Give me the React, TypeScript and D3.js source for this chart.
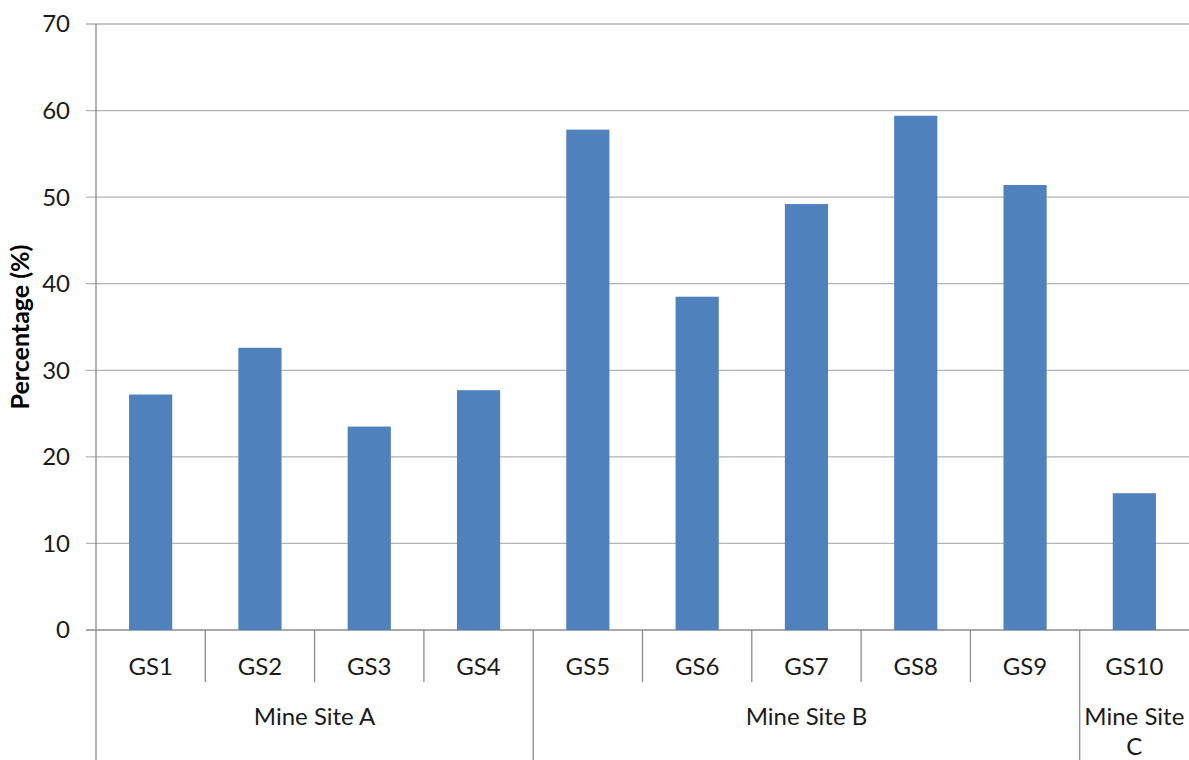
import React, { useEffect, useRef } from 'react';
import * as d3 from 'd3';

const samples = ['GS1', 'GS2', 'GS3', 'GS4', 'GS5', 'GS6', 'GS7', 'GS8', 'GS9', 'GS10'];
const percentages = [27.2, 32.6, 23.5, 27.7, 57.8, 38.5, 49.2, 59.4, 51.4, 15.8];
const sites = ['Mine Site A', 'Mine Site B', 'Mine Site C'];
const siteOfSample = [0, 0, 0, 0, 1, 1, 1, 1, 1, 2];
const yTicks = [0, 10, 20, 30, 40, 50, 60, 70];

export default function App() {
    const ref = useRef<SVGSVGElement>(null);
    const width = 1189;
    const height = 760;
    const margin = { top: 24, right: 0, bottom: 130, left: 96 };
    const font = 'Lato, "Open Sans", sans-serif';

    useEffect(() => {
        const svg = d3.select(ref.current);
        svg.selectAll('*').remove();

        const xScale = d3.scaleBand<string>()
            .domain(samples)
            .range([margin.left, width - margin.right])
            .padding(0);
        const yScale = d3.scaleLinear()
            .domain([0, 70])
            .range([height - margin.bottom, margin.top]);
        const baseY = yScale(0);

        // gridlines
        svg.append('g')
            .selectAll('line')
            .data(yTicks)
            .enter().append('line')
            .attr('x1', margin.left - 10)
            .attr('x2', width)
            .attr('y1', (d) => yScale(d))
            .attr('y2', (d) => yScale(d))
            .attr('stroke', (d) => d === 0 ? '#8c8c8c' : '#b3b3b3')
            .attr('stroke-width', 1.3);

        // y axis labels
        svg.append('g')
            .selectAll('text')
            .data(yTicks)
            .enter().append('text')
            .attr('x', 70)
            .attr('y', (d) => yScale(d))
            .attr('dy', '0.35em')
            .attr('text-anchor', 'end')
            .attr('font-family', font)
            .attr('font-size', 24)
            .attr('fill', '#1a1a1a')
            .text((d) => d);

        // bars
        const barW = xScale.bandwidth() * 0.395;
        svg.append('g')
            .selectAll('rect')
            .data(percentages)
            .enter().append('rect')
            .attr('x', (d, i) => (xScale(samples[i]) as number) + (xScale.bandwidth() - barW) / 2)
            .attr('y', (d) => yScale(d))
            .attr('width', barW)
            .attr('height', (d) => baseY - yScale(d))
            .attr('fill', '#4f81bd');

        // y axis line
        svg.append('line')
            .attr('x1', margin.left).attr('x2', margin.left)
            .attr('y1', margin.top).attr('y2', height)
            .attr('stroke', '#8c8c8c').attr('stroke-width', 1.3);

        // category separators and labels
        const step = xScale.bandwidth();
        samples.forEach((s, i) => {
            const x0 = xScale(s) as number;
            if (i > 0) {
                const groupEdge = siteOfSample[i] !== siteOfSample[i - 1];
                svg.append('line')
                    .attr('x1', x0).attr('x2', x0)
                    .attr('y1', baseY).attr('y2', groupEdge ? height : baseY + 52)
                    .attr('stroke', '#8c8c8c').attr('stroke-width', 1.3);
            }
            svg.append('text')
                .attr('x', x0 + step / 2)
                .attr('y', baseY + 37)
                .attr('dy', '0.35em')
                .attr('text-anchor', 'middle')
                .attr('font-family', font)
                .attr('font-size', 24)
                .attr('fill', '#1a1a1a')
                .text(s);
        });

        // site labels
        sites.forEach((site, g) => {
            const idx = siteOfSample.map((v, i) => v === g ? i : -1).filter((i) => i >= 0);
            const left = xScale(samples[idx[0]]) as number;
            const right = (xScale(samples[idx[idx.length - 1]]) as number) + step;
            const cx = (left + right) / 2;
            const words = site.split(' ');
            const lines = (right - left) < 130 ? [words.slice(0, -1).join(' '), words[words.length - 1]] : [site];
            lines.forEach((line, k) => {
                svg.append('text')
                    .attr('x', cx)
                    .attr('y', baseY + 87 + k * 30)
                    .attr('dy', '0.35em')
                    .attr('text-anchor', 'middle')
                    .attr('font-family', font)
                    .attr('font-size', 24)
                    .attr('fill', '#1a1a1a')
                    .text(line);
            });
        });

        // y axis title
        svg.append('text')
            .attr('transform', 'translate(20,' + 327 + ') rotate(-90)')
            .attr('dy', '0.35em')
            .attr('text-anchor', 'middle')
            .attr('font-family', font)
            .attr('font-weight', 'bold')
            .attr('font-size', 25)
            .attr('fill', '#000')
            .text('Percentage (%)');
    }, []);

    return (
        <div style={{ position: 'absolute', left: 0, top: 0 }}>
            <svg ref={ref} width={width} height={height} style={{ display: 'block', background: '#fff' }} />
        </div>
    );
}
